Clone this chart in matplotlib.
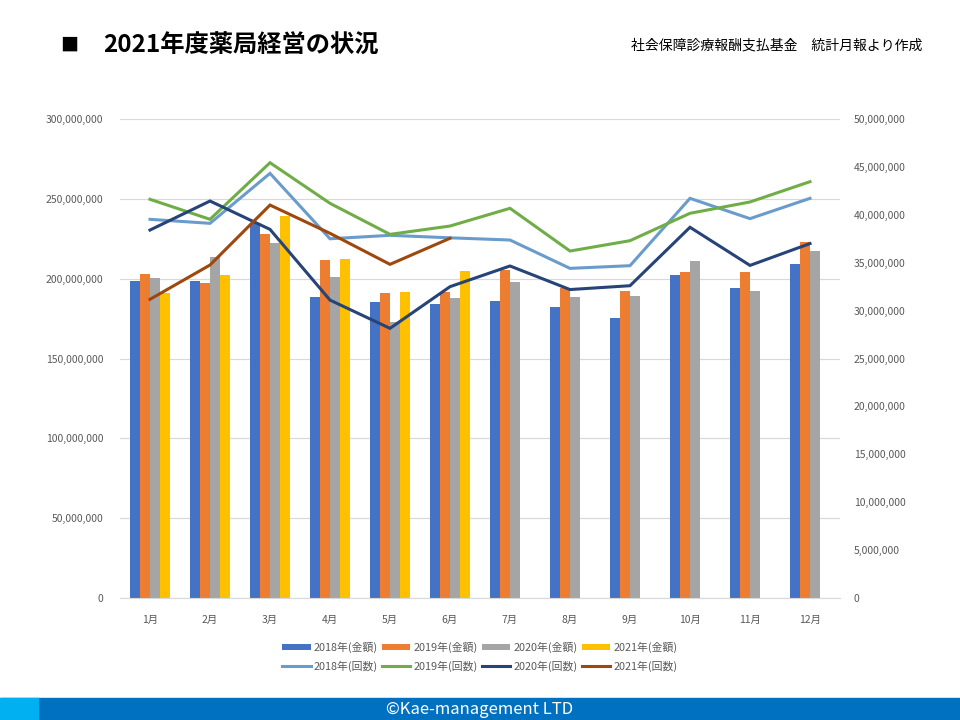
"""2021年度薬局経営の状況: monthly amounts (bars, left axis) + counts (lines, right axis)."""
import numpy as np
import matplotlib
matplotlib.use("Agg")
import matplotlib.pyplot as plt
from matplotlib.patches import Rectangle
from matplotlib.ticker import FuncFormatter, MultipleLocator

plt.rcParams["font.family"] = ["Noto Sans CJK JP", "DejaVu Sans"]

months = [f"{m}月" for m in range(1, 13)]

# 金額 (left axis, yen)
amt_2018 = [198.5e6, 198.5e6, 235.0e6, 188.7e6, 185.4e6, 184.1e6,
            186.0e6, 182.3e6, 175.4e6, 202.3e6, 194.2e6, 209.2e6]
amt_2019 = [202.9e6, 197.3e6, 228.0e6, 211.7e6, 191.0e6, 191.8e6,
            205.4e6, 194.3e6, 192.3e6, 204.2e6, 204.2e6, 223.0e6]
amt_2020 = [200.4e6, 213.6e6, 222.1e6, 201.0e6, 172.9e6, 187.9e6,
            197.9e6, 188.5e6, 189.1e6, 211.1e6, 192.3e6, 217.3e6]
amt_2021 = [191.2e6, 202.3e6, 239.4e6, 212.5e6, 191.6e6, 205.0e6]

# 回数 (right axis)
cnt_2018 = [39.53e6, 39.11e6, 44.33e6, 37.50e6, 37.86e6, 37.60e6,
            37.37e6, 34.41e6, 34.69e6, 41.72e6, 39.60e6, 41.72e6]
cnt_2019 = [41.62e6, 39.53e6, 45.44e6, 41.20e6, 37.96e6, 38.83e6,
            40.68e6, 36.22e6, 37.30e6, 40.16e6, 41.34e6, 43.46e6]
cnt_2020 = [38.41e6, 41.44e6, 38.48e6, 31.10e6, 28.15e6, 32.50e6,
            34.66e6, 32.20e6, 32.60e6, 38.70e6, 34.72e6, 37.00e6]
cnt_2021 = [31.18e6, 34.76e6, 41.02e6, 38.07e6, 34.83e6, 37.55e6]

BAR_COLORS = ["#4472C4", "#ED7D31", "#A5A5A5", "#FFC000"]
LINE_COLORS = ["#6A9CCB", "#70AD47", "#264478", "#9E480E"]
TXT = "#595959"
years = ["2018", "2019", "2020", "2021"]

fig = plt.figure(figsize=(9.6, 7.2), dpi=100)
ax = fig.add_axes([0.125, 0.1694, 0.75, 0.6653])
ax2 = ax.twinx()

x = np.arange(len(months))
w = 1 / 6
bar_h = []
for i, (vals, c) in enumerate(zip([amt_2018, amt_2019, amt_2020, amt_2021], BAR_COLORS)):
    xi = x[:len(vals)] + (i - 1.5) * w
    b = ax.bar(xi, vals, width=w, color=c, zorder=2)
    bar_h.append(b)

line_h = []
for vals, c in zip([cnt_2018, cnt_2019, cnt_2020, cnt_2021], LINE_COLORS):
    (l,) = ax2.plot(x[:len(vals)], vals, color=c, lw=2.2, solid_joinstyle="miter")
    line_h.append(l)

fmt = FuncFormatter(lambda v, _: f"{v:,.0f}")
ax.set_xlim(-0.5, 11.5)
ax.set_ylim(0, 300e6)
ax.yaxis.set_major_locator(MultipleLocator(50e6))
ax.yaxis.set_major_formatter(fmt)
ax2.set_ylim(0, 50e6)
ax2.yaxis.set_major_locator(MultipleLocator(5e6))
ax2.yaxis.set_major_formatter(fmt)

ax.grid(axis="y", color="#D9D9D9", lw=0.9, zorder=0)
ax.set_axisbelow(True)
for a in (ax, ax2):
    for s in a.spines.values():
        s.set_visible(False)
ax.spines["bottom"].set_visible(True)
ax.spines["bottom"].set_color("#D9D9D9")
ax.set_xticks(x)
ax.set_xticklabels(months)
ax.tick_params(axis="x", length=0, labelsize=7.5, labelcolor=TXT, pad=12)
ax.tick_params(axis="y", length=0, labelsize=7.5, labelcolor=TXT, pad=12)
ax2.tick_params(axis="y", length=0, labelsize=7.5, labelcolor=TXT, pad=10)

# legend: bars on row 1, lines on row 2 (matplotlib fills column-wise)
handles, labels = [], []
for y, b, l in zip(years, bar_h, line_h):
    handles += [b, l]
    labels += [f"{y}年(金額)", f"{y}年(回数)"]
fig.legend(handles, labels, ncol=4, loc="center", bbox_to_anchor=(0.5, 0.0875),
           frameon=False, fontsize=7.8, labelcolor=TXT, handlelength=2.6,
           handleheight=0.5, handletextpad=0.3, columnspacing=0.4, labelspacing=0.7)

# titles
fig.text(0.063, 0.937, "■", fontsize=13, fontweight="bold", va="center")
fig.text(0.108, 0.937, "2021年度薬局経営の状況", fontsize=17.5, fontweight="bold", va="center")
fig.text(0.961, 0.937, "社会保障診療報酬支払基金　統計月報より作成", fontsize=10,
         ha="right", va="center")

# footer band
fig.add_artist(Rectangle((0, 0), 1, 22 / 720, transform=fig.transFigure,
                         color="#0070C0", zorder=0))
fig.add_artist(Rectangle((0, 0), 38 / 960, 22 / 720, transform=fig.transFigure,
                         color="#00B0F0", zorder=1))
fig.text(0.5, 11 / 720, "©Kae-management LTD", color="white", fontsize=12,
         ha="center", va="center")

fig.savefig("out.png", dpi=100)
